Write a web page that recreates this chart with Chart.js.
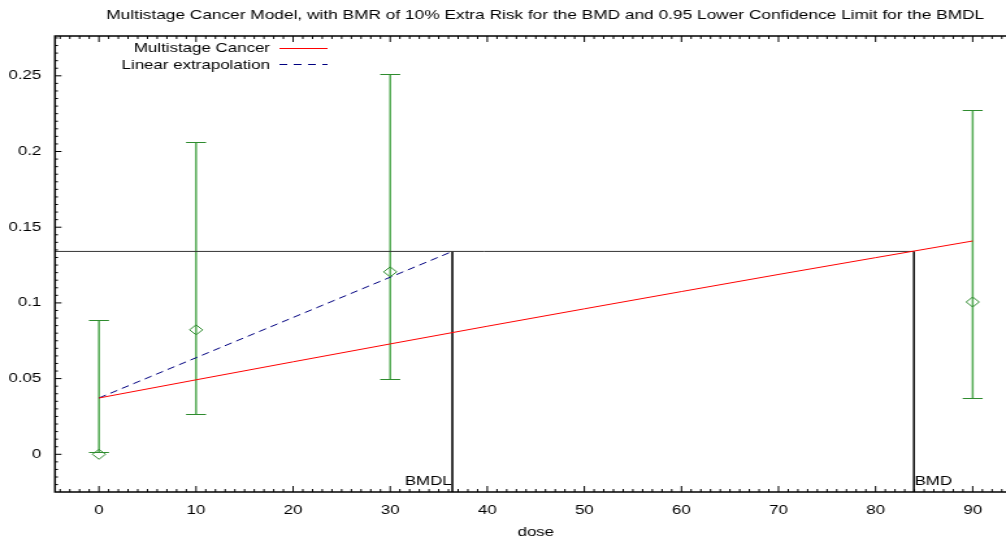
<!DOCTYPE html>
<html>
<head>
<meta charset="utf-8">
<script src="https://cdn.jsdelivr.net/npm/chart.js@4"></script>
<style>
  html, body { margin: 0; padding: 0; background: #fff; overflow: hidden; }
  /* the reference is stretched sideways, so draw narrow and stretch */
  #wrap { width: 774px; height: 537px; transform: scaleX(1.2997); transform-origin: 0 0; }
</style>
</head>
<body>
<div id="wrap"><canvas id="chart"></canvas></div>
<script>
// data
const doses = [0, 10, 30, 90];
const observed = [0, 0.0822, 0.1205, 0.1006];
const lowerCL = [0.0015, 0.0266, 0.0497, 0.0372];
const upperCL = [0.0887, 0.2063, 0.2512, 0.2274];

const modelDoses = [0, 10, 20, 30, 40, 50, 60, 70, 80, 90];
const modelRisk = [0.0372, 0.0492, 0.0611, 0.0729, 0.0846, 0.0961, 0.1075, 0.1188, 0.1299, 0.1409];

const bmrLevel = 0.134;
const bmd = 83.95;
const bmdl = 36.4;
const bgRisk = 0.0372;

const xTicks = [0, 10, 20, 30, 40, 50, 60, 70, 80, 90];
const yTicks = [0, 0.05, 0.1, 0.15, 0.2, 0.25];
const yTickLabels = ['0', '0.05', '0.1', '0.15', '0.2', '0.25'];

const xMin = -4.53, xMax = 93.43;
const yMin = -0.0249, yMax = 0.2763;

const FONT = 'Liberation Sans, Arial, sans-serif';
const green = '#2e8b2e';

const pts = (xs, ys) => xs.map((x, i) => ({ x: x, y: ys[i] }));

// error bars, title, legend, frame and ticks
const extras = {
  id: 'extras',
  beforeDatasetsDraw(chart) {
    const ctx = chart.ctx, xs = chart.scales.x, ys = chart.scales.y;
    ctx.save();
    doses.forEach((d, i) => {
      const px = xs.getPixelForValue(d);
      const lo = ys.getPixelForValue(lowerCL[i]);
      const hi = ys.getPixelForValue(upperCL[i]);
      ctx.strokeStyle = '#4fa84f';
      ctx.lineWidth = 1.5;
      ctx.beginPath();
      ctx.moveTo(px, lo); ctx.lineTo(px, hi);
      ctx.stroke();
      ctx.lineWidth = 1;
      ctx.strokeStyle = green;
      ctx.beginPath();
      ctx.moveTo(px - 7.7, Math.round(lo) + 0.5); ctx.lineTo(px + 7.7, Math.round(lo) + 0.5);
      ctx.moveTo(px - 7.7, Math.round(hi) + 0.5); ctx.lineTo(px + 7.7, Math.round(hi) + 0.5);
      ctx.stroke();
    });
    ctx.restore();
  },
  afterDraw(chart) {
    const ctx = chart.ctx, xs = chart.scales.x, ys = chart.scales.y;
    const a = chart.chartArea;
    ctx.save();
    ctx.fillStyle = '#000';
    ctx.font = '13.3px ' + FONT;
    ctx.textAlign = 'center';
    ctx.textBaseline = 'middle';
    ctx.fillText('Multistage Cancer Model, with BMR of 10% Extra Risk for the BMD and 0.95 Lower Confidence Limit for the BMDL', 419.5, 15);

    ctx.font = '13px ' + FONT;
    ctx.fillText('dose', xs.getPixelForValue(45), 532);

    // BMD / BMDL labels
    ctx.textBaseline = 'alphabetic';
    ctx.textAlign = 'right';
    ctx.fillText('BMDL', xs.getPixelForValue(bmdl) - 0.5, 485);
    ctx.textAlign = 'left';
    ctx.fillText('BMD', xs.getPixelForValue(bmd) + 0.5, 485);

    // legend
    ctx.textAlign = 'right';
    ctx.textBaseline = 'middle';
    ctx.fillText('Multistage Cancer', 207.7, 48);
    ctx.fillText('Linear extrapolation', 207.7, 65);
    ctx.lineWidth = 1;
    ctx.strokeStyle = 'red';
    ctx.beginPath(); ctx.moveTo(215, 48.5); ctx.lineTo(252, 48.5); ctx.stroke();
    ctx.strokeStyle = '#000080';
    ctx.setLineDash([6, 5]);
    ctx.beginPath(); ctx.moveTo(215, 64.5); ctx.lineTo(252, 64.5); ctx.stroke();
    ctx.setLineDash([]);

    // frame (right side is off the picture)
    ctx.strokeStyle = '#000';
    ctx.lineWidth = 1.5;
    ctx.beginPath();
    ctx.moveTo(a.right + 2, a.top); ctx.lineTo(a.left, a.top);
    ctx.lineTo(a.left, a.bottom); ctx.lineTo(a.right + 2, a.bottom);
    ctx.stroke();

    // x ticks, top and bottom, pointing in
    ctx.lineWidth = 1;
    ctx.beginPath();
    for (let v = Math.ceil(xMin); v <= xMax; v++) {
      const px = xs.getPixelForValue(v);
      const len = v % 10 === 0 ? 6 : 3;
      ctx.moveTo(px, a.bottom); ctx.lineTo(px, a.bottom - len);
      ctx.moveTo(px, a.top); ctx.lineTo(px, a.top + len);
    }
    // y ticks, left side
    for (let k = Math.ceil(yMin / 0.005); k * 0.005 <= yMax; k++) {
      const py = ys.getPixelForValue(k * 0.005);
      const len = k % 10 === 0 ? 5 : 2.3;
      ctx.moveTo(a.left, py); ctx.lineTo(a.left + len, py);
    }
    ctx.stroke();
    ctx.restore();
  }
};

new Chart(document.getElementById('chart'), {
  type: 'scatter',
  data: {
    datasets: [
      {
        label: 'Observed',
        data: pts(doses, observed),
        pointStyle: 'rectRot',
        radius: 5,
        borderColor: green,
        backgroundColor: 'rgba(0,0,0,0)',
        borderWidth: 1
      },
      {
        label: 'Multistage Cancer',
        data: pts(modelDoses, modelRisk),
        showLine: true,
        borderColor: 'red',
        borderWidth: 1,
        pointRadius: 0
      },
      {
        label: 'Linear extrapolation',
        data: [{ x: 0, y: bgRisk }, { x: bmdl, y: bmrLevel }],
        showLine: true,
        borderColor: '#000080',
        borderWidth: 1,
        borderDash: [6, 4],
        pointRadius: 0
      },
      {
        label: 'BMR',
        data: [{ x: xMin, y: bmrLevel }, { x: bmd, y: bmrLevel }],
        showLine: true,
        borderColor: '#333',
        borderWidth: 1,
        pointRadius: 0
      },
      {
        label: 'BMDL line',
        data: [{ x: bmdl, y: bmrLevel }, { x: bmdl, y: yMin }],
        showLine: true,
        borderColor: '#000',
        borderWidth: 0.8,
        pointRadius: 0
      },
      {
        label: 'BMD line',
        data: [{ x: bmd, y: bmrLevel }, { x: bmd, y: yMin }],
        showLine: true,
        borderColor: '#000',
        borderWidth: 0.8,
        pointRadius: 0
      }
    ]
  },
  options: {
    responsive: true,
    maintainAspectRatio: false,
    animation: false,
    layout: { autoPadding: false, padding: { top: 36, right: 0, left: 0, bottom: 0 } },
    plugins: { legend: { display: false }, tooltip: { enabled: false } },
    scales: {
      x: {
        type: 'linear',
        min: xMin, max: xMax,
        afterBuildTicks: s => { s.ticks = xTicks.map(v => ({ value: v })); },
        afterFit: s => { s.height = 45; s.paddingLeft = 0; s.paddingRight = 0; },
        grid: { display: false, drawTicks: false },
        border: { display: false },
        ticks: { padding: 11, color: '#000', font: { family: FONT, size: 13 }, callback: v => String(v) }
      },
      y: {
        type: 'linear',
        min: yMin, max: yMax,
        afterBuildTicks: s => { s.ticks = yTicks.map(v => ({ value: v })); },
        afterFit: s => { s.width = 42.3; s.paddingTop = 0; s.paddingBottom = 0; },
        grid: { display: false, drawTicks: false },
        border: { display: false },
        ticks: { padding: 10.5, color: '#000', font: { family: FONT, size: 13 }, callback: v => yTickLabels[yTicks.indexOf(v)] }
      }
    }
  },
  plugins: [extras]
});
</script>
</body>
</html>
